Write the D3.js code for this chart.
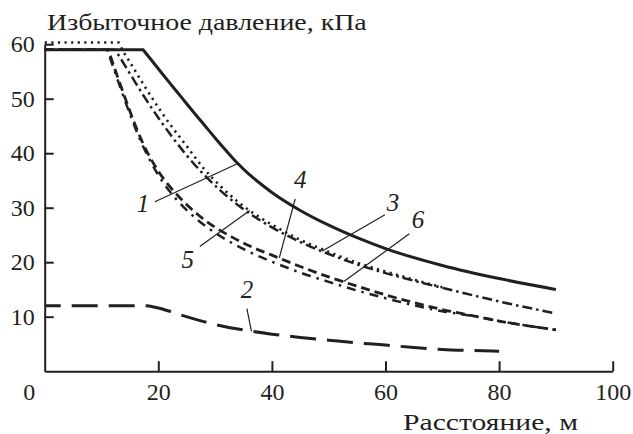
<!DOCTYPE html>
<html>
<head>
<meta charset="utf-8">
<script src="https://d3js.org/d3.v7.min.js"></script>
<style>
  body { margin: 0; background: #fff; }
  svg { display: block; }
  .axis path, .axis line { stroke: #231f20; stroke-width: 2; }
  .curve { fill: none; stroke: #231f20; }
  .leader { stroke: #231f20; stroke-width: 1.2; }
</style>
</head>
<body>
<svg width="633" height="434"></svg>
<script>
const FONT = 'Liberation Serif';

// distance, m
const xTicks = [0, 20, 40, 60, 80, 100];
const yTicks = [10, 20, 30, 40, 50, 60];

// curve 1 (solid)
const c1x = [0, 17.3, 18, 20, 22, 24.2, 26, 28, 30, 32, 34, 36, 38, 40, 45, 50, 55, 60, 70, 80, 90];
const c1y = [59, 59, 58.1, 55.5, 52.9, 50.1, 47.8, 45.3, 42.8, 40.4, 38.1, 36.1, 34.4, 32.8, 29.5, 26.8, 24.5, 22.5, 19.4, 17, 15];

// curve 2 (long dash)
const c2x = [0, 18, 20, 22, 24, 28, 32, 36, 40, 45, 50, 55, 60, 65, 70, 75, 80];
const c2y = [12, 12, 11.6, 11, 10.3, 9.1, 8.1, 7.4, 6.8, 6.2, 5.7, 5.2, 4.8, 4.35, 4, 3.8, 3.65];

// curve 3 (dash-dot)
const c3x = [0, 12.4, 13, 14, 15, 16, 18, 20, 22, 25, 28, 31, 34, 37, 40, 45, 50, 55, 60, 65, 70, 80, 90];
const c3y = [59, 59, 58, 56.3, 54.6, 52.9, 49.6, 46.5, 43.6, 39.6, 36.1, 33.1, 30.5, 28.3, 26.4, 23.7, 21.5, 19.6, 18, 16.6, 15.3, 12.8, 10.6];

// curve 5 (dotted)
const c5x = [0, 13, 14, 15, 16, 18, 20, 22, 25, 28, 31, 34, 37, 40, 45, 50, 55, 60, 65, 70];
const c5y = [60.3, 60.3, 58.4, 56.7, 55, 51.6, 48.4, 45.4, 41.3, 37.2, 33.9, 31.1, 28.8, 26.9, 24.1, 21.9, 19.9, 18.3, 16.8, 15.4];

// curve 4 (dashed)
const c4x = [0, 11.2, 12, 13, 14, 15, 16, 17, 18, 19, 20, 22, 24, 27, 30, 33, 36, 40, 45, 50, 55, 60, 65, 70, 75, 80, 90];
const c4y = [59, 59, 56.5, 53.5, 50.6, 47.7, 45, 42.5, 40.3, 38.4, 36.7, 33.9, 31.6, 28.7, 26.4, 24.6, 23, 21.3, 19.2, 17.3, 15.6, 14, 12.6, 11.3, 10.25, 9.2, 7.6];

// curve 6 (dash-dot, lower)
const c6x = [0, 11, 12, 13, 14, 15, 16, 17, 18, 19, 20, 22, 24, 27, 30, 33, 36, 40, 45, 50, 55, 60, 65, 70, 75, 80, 90];
const c6y = [59, 59, 56, 53, 50, 47.2, 44.5, 42, 39.8, 37.8, 36, 33, 30.6, 27.7, 25.4, 23.5, 21.9, 20.1, 18.1, 16.4, 14.8, 13.4, 12.1, 11, 10.2, 9.2, 7.6];

const curveNames = ['1', '2', '3', '4', '5', '6'];

const svg = d3.select('svg');

const x = d3.scaleLinear().domain([0, 100]).range([44.7, 612.7]);
const y = d3.scaleLinear().domain([0, 60]).range([371.2, 44.2]);

const zip = (xs, ys) => xs.map((v, i) => [v, ys[i]]);

const series = [
    { pts: zip(c1x, c1y), width: 3, dash: null, off: 0 },
    { pts: zip(c2x, c2y), width: 3, dash: '26,11', off: 10 },
    { pts: zip(c3x, c3y), width: 2.5, dash: '10,4,2.5,4', off: 0 },
    { pts: zip(c4x, c4y), width: 2.8, dash: '9,5', off: 0 },
    { pts: zip(c5x, c5y), width: 2.6, dash: '2.2,4.4', off: 0 },
    { pts: zip(c6x, c6y), width: 2.5, dash: '9,6,2.5,6', off: 0 }
];

// flat part straight, falling part smooth
const flat = d3.line().x(d => x(d[0])).y(d => y(d[1]));
const fall = d3.line().x(d => x(d[0])).y(d => y(d[1])).curve(d3.curveMonotoneX);
const pathOf = pts => flat(pts.slice(0, 2)) + fall(pts.slice(1)).replace(/^M/, 'L');

// axes
const xAxis = svg.append('g')
    .attr('class', 'axis')
    .attr('transform', `translate(0, ${y(0)})`)
    .call(d3.axisBottom(x).tickValues(xTicks).tickSize(-10).tickSizeOuter(0).tickPadding(12));
xAxis.selectAll('.tick').filter(d => d === 0).select('line').remove();
xAxis.selectAll('.tick').filter(d => d === 0).select('text').attr('x', -16);

const yAxis = svg.append('g')
    .attr('class', 'axis')
    .attr('transform', `translate(${x(0)}, 0)`)
    .call(d3.axisLeft(y).tickValues(yTicks).tickSize(-9).tickSizeOuter(0).tickPadding(10));

svg.selectAll('.axis')
    .attr('font-family', null)
    .attr('font-size', null);
svg.selectAll('.axis text')
    .style('font-family', FONT)
    .style('font-size', '24px')
    .attr('fill', '#231f20');

// curves
svg.append('g')
    .selectAll('path')
    .data(series)
    .enter()
    .append('path')
    .attr('class', 'curve')
    .attr('d', s => pathOf(s.pts))
    .attr('stroke-width', s => s.width)
    .attr('stroke-dasharray', s => s.dash)
    .attr('stroke-dashoffset', s => s.off);

// number labels with leader lines (data units)
const notes = [
    { t: curveNames[0], lx: 17.3, ly: 29.2, from: [19.4, 31.1], to: [34, 38.1] },
    { t: curveNames[4], lx: 25.2, ly: 18.9, from: [27.3, 22.9], to: [36.1, 29.5] },
    { t: curveNames[3], lx: 45, ly: 33.6, from: [44.1, 31.6], to: [41.3, 20.8] },
    { t: curveNames[1], lx: 35.6, ly: 13.4, from: [35.6, 11.5], to: [36.4, 7.3] },
    { t: curveNames[2], lx: 61.3, ly: 29.4, from: [59.9, 28.7], to: [48.8, 22.0] },
    { t: curveNames[5], lx: 65.7, ly: 26.3, from: [64.2, 25.2], to: [52.6, 16.4] }
];

svg.append('g')
    .selectAll('line')
    .data(notes)
    .enter()
    .append('line')
    .attr('class', 'leader')
    .attr('x1', d => x(d.from[0]))
    .attr('y1', d => y(d.from[1]))
    .attr('x2', d => x(d.to[0]))
    .attr('y2', d => y(d.to[1]));

svg.append('g')
    .selectAll('text')
    .data(notes)
    .enter()
    .append('text')
    .attr('x', d => x(d.lx))
    .attr('y', d => y(d.ly))
    .attr('text-anchor', 'middle')
    .style('font-family', FONT)
    .style('font-style', 'italic')
    .style('font-size', '25px')
    .attr('fill', '#231f20')
    .text(d => d.t);

// axis titles, widened to the reference width
function title(str, left, base, width) {
    const t = svg.append('text')
        .style('font-family', FONT)
        .style('font-size', '24px')
        .attr('fill', '#231f20')
        .text(str);
    const k = width / t.node().getComputedTextLength();
    t.attr('transform', `translate(${left}, ${base}) scale(${k}, 1)`);
}
title('Избыточное давление, кПа', 47, 30, 320);
title('Расстояние, м', 403, 430, 175);
</script>
</body>
</html>
